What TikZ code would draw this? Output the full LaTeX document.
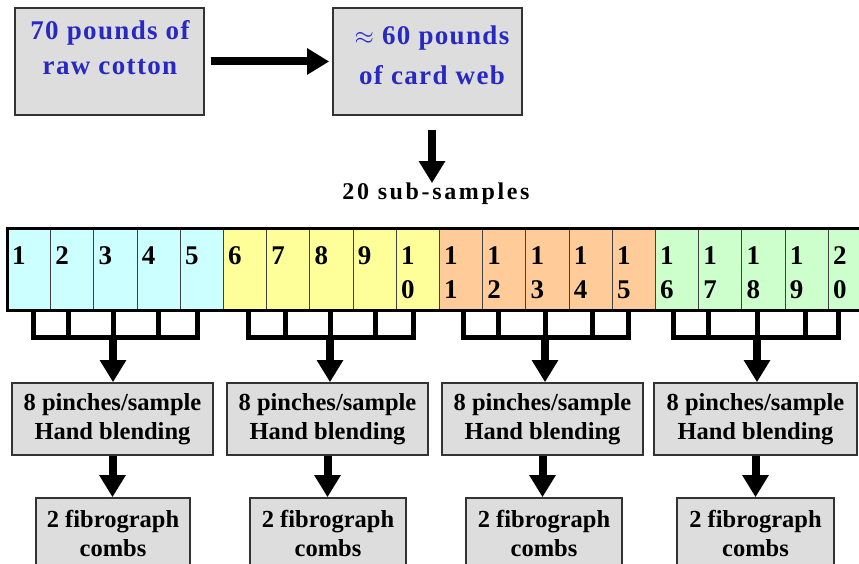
\documentclass[tikz,border=0pt]{standalone}
\usepackage{fontspec}
\setmainfont{Liberation Serif}
\usetikzlibrary{arrows.meta}
\definecolor{txtblue}{RGB}{40,40,195}
\definecolor{boxgray}{RGB}{221,221,221}
\definecolor{cA}{RGB}{204,255,255}
\definecolor{cB}{RGB}{255,255,153}
\definecolor{cC}{RGB}{255,204,153}
\definecolor{cD}{RGB}{204,255,204}
\begin{document}
\begin{tikzpicture}[x=1pt,y=-1pt,
  graybox/.style={draw=black!80, line width=1.6pt, fill=boxgray, inner sep=0pt},
  toptext/.style={font=\fontsize{27}{35}\selectfont\bfseries\addfontfeature{LetterSpace=5}, text=txtblue, align=center, inner sep=0pt},
  subtext/.style={font=\fontsize{24}{28}\selectfont\bfseries\addfontfeature{LetterSpace=11}, inner sep=0pt},
  boxtext/.style={font=\fontsize{24.5}{29}\selectfont\bfseries, align=center, inner sep=0pt},
  cell/.style={draw=black!75, line width=0.8pt, minimum width=43.2pt, minimum height=82pt, inner sep=0pt},
  num/.style={font=\fontsize{27}{34}\selectfont\bfseries, align=left, inner sep=0pt},
  bigarrow/.style={line width=8pt, -{Triangle[width=25pt,length=22pt]}},
  comb/.style={line width=5pt, line join=miter}]
\useasboundingbox (0,0) rectangle (859,564);
\clip (0,0) rectangle (859,564);
\fill[white] (0,0) rectangle (859,564);

% top boxes
\node[graybox, minimum width=189pt, minimum height=107pt] (b1) at (109.5,61.5) {};
\node[graybox, minimum width=189pt, minimum height=107pt] (b2) at (427.5,61.5) {};
\node[toptext, anchor=base] (t1) at (110,75) {70 pounds of\\raw cotton};
\node[toptext, anchor=base] (t2) at (432,85) {$\approx$ 60 pounds\\[5pt]of card web};
\draw[bigarrow] ([xshift=6pt]b1.east) -- ([xshift=-3pt]b2.west);

% sub-samples
\node[subtext, anchor=base] (ss) at (436,200) {20 sub-samples};
\coordinate (d0) at (432,130);
\draw[bigarrow] (d0) -- (d0 |- ss.north);

% strip of cells
\foreach \i/\col in {1/cA,2/cA,3/cA,4/cA,5/cA,6/cB,7/cB,8/cB,9/cB,10/cB,11/cC,12/cC,13/cC,14/cC,15/cC,16/cD,17/cD,18/cD,19/cD,20/cD}{
  \node[cell, fill=\col, anchor=north west] (c\i) at ({7+43.2*(\i-1)},228) {};
}
\foreach \i in {1,...,9}{
  \node[num, anchor=base west] (n\i) at ({12+43.2*(\i-1)},264) {\i};
}
\foreach \i/\a/\b in {10/1/0,11/1/1,12/1/2,13/1/3,14/1/4,15/1/5,16/1/6,17/1/7,18/1/8,19/1/9,20/2/0}{
  \node[num, anchor=base west] (n\i) at ({12+43.2*(\i-1)},298) {\a\\\b};
}
\draw[line width=3pt] (c1.north west) rectangle (c20.south east);

% bottom boxes
\node[graybox, boxtext, minimum width=201pt, minimum height=72pt] (p1) at (112.5,419) {8 pinches/sample\\Hand blending};
\node[graybox, boxtext, minimum width=201pt, minimum height=72pt] (p2) at (327.5,419) {8 pinches/sample\\Hand blending};
\node[graybox, boxtext, minimum width=201pt, minimum height=72pt] (p3) at (542.5,419) {8 pinches/sample\\Hand blending};
\node[graybox, boxtext, minimum width=203pt, minimum height=72pt] (p4) at (755.5,419) {8 pinches/sample\\Hand blending};

\node[graybox, minimum width=154pt, minimum height=82pt] (f1) at (113,539) {};
\node[graybox, minimum width=156pt, minimum height=82pt] (f2) at (328,539) {};
\node[graybox, minimum width=156pt, minimum height=82pt] (f3) at (544,539) {};
\node[graybox, minimum width=157pt, minimum height=82pt] (f4) at (755.5,539) {};
\foreach \k in {1,2,3,4}{
  \node[boxtext, anchor=base] (ft\k) at (f\k.center |- 0,556) {2 fibrograph\\combs};
}

% combs
\foreach \g/\a/\b/\m/\d/\e in {1/33/68/113/158/197, 2/248/285/330/375/413, 3/463/498/545/592/628, 4/673/708/757/805/838}{
  \draw[comb] (\a,309) -- (\a,337) -- (\e,337) -- (\e,309);
  \draw[comb] (\b,309) -- (\b,337);
  \draw[comb] (\m,309) -- (\m,337);
  \draw[comb] (\d,309) -- (\d,337);
  \coordinate (k\g) at (\m,335);
  \draw[bigarrow] (k\g) -- (k\g |- p\g.north);
  \draw[bigarrow] (p\g.south) -- (p\g.south |- f\g.north);
}
\end{tikzpicture}
\end{document}
